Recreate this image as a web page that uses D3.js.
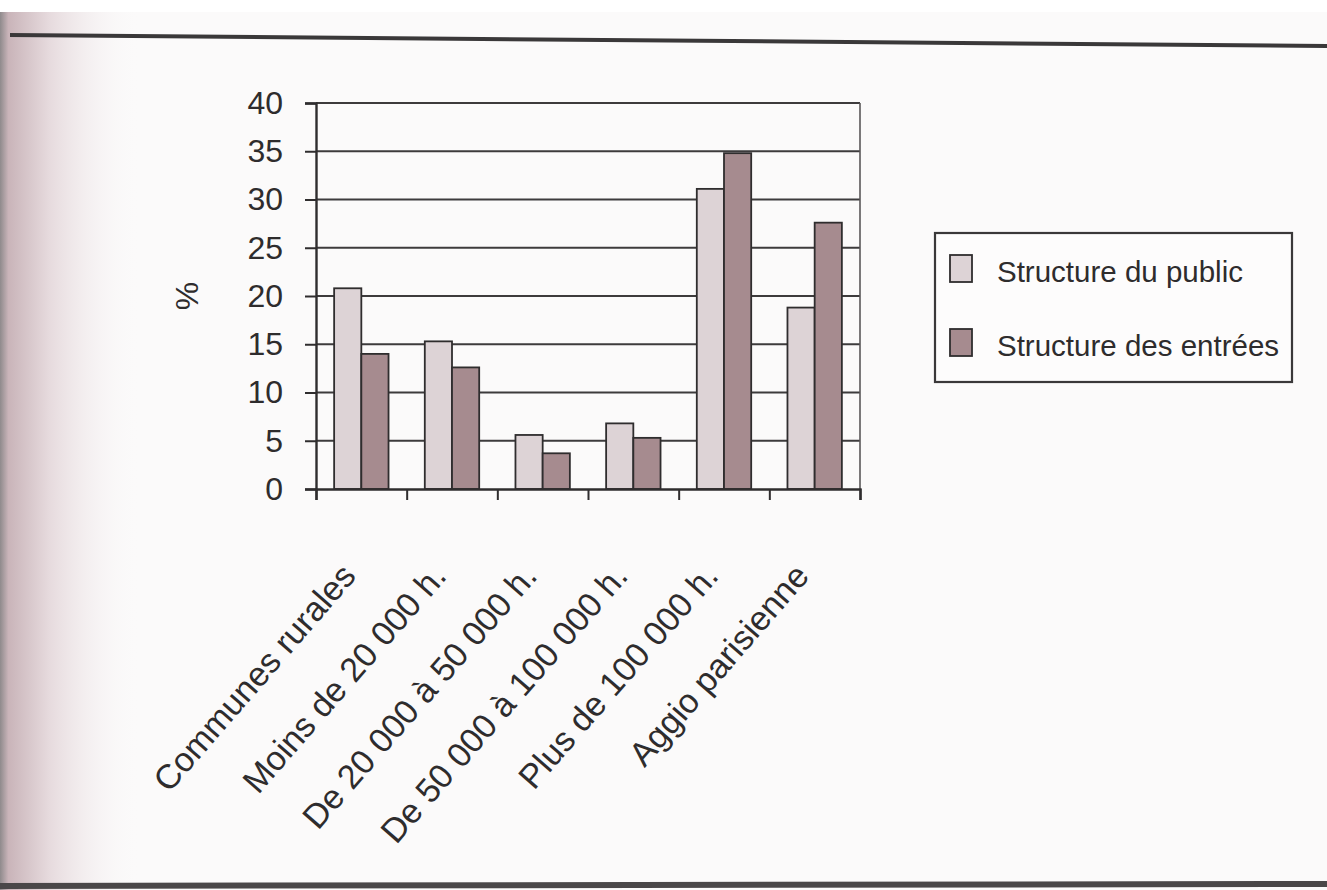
<!DOCTYPE html>
<html>
<head>
<meta charset="utf-8">
<script src="https://cdn.jsdelivr.net/npm/d3@7"></script>
<style>
  html, body { margin: 0; padding: 0; background: #fbfafa; }
  svg { display: block; }
  text { font-family: "Liberation Sans", Arial, sans-serif; fill: #2e2c2d; }
</style>
</head>
<body>
<svg id="chart" width="1327" height="890"></svg>
<script>
// Répartition du public et des entrées selon la taille de la commune (%)
const categories = [
  "Communes rurales",
  "Moins de 20 000 h.",
  "De 20 000 à 50 000 h.",
  "De 50 000 à 100 000 h.",
  "Plus de 100 000 h.",
  "Aggio parisienne"
];
const seriesNames = ["Structure du public", "Structure des entrées"];
const publicValues = [20.8, 15.3, 5.6, 6.8, 31.1, 18.8];
const entreesValues = [14.0, 12.6, 3.7, 5.3, 34.8, 27.6];
const yTicks = [0, 5, 10, 15, 20, 25, 30, 35, 40];
const yLabel = "%";

const seriesValues = [publicValues, entreesValues];
const colors = ["#ddd3d6", "#a68b8f"];

const svg = d3.select("#chart");
const W = 1327, H = 890;

// Page background: shaded binding on the left, rule at top and bottom
const defs = svg.append("defs");
const grad = defs.append("linearGradient").attr("id", "binding")
  .attr("x1", 0).attr("x2", 1).attr("y1", 0).attr("y2", 0);
grad.append("stop").attr("offset", 0).attr("stop-color", "#8f8a8c");
grad.append("stop").attr("offset", 0.06).attr("stop-color", "#c9b4b9");
grad.append("stop").attr("offset", 0.35).attr("stop-color", "#e6dadd");
grad.append("stop").attr("offset", 1).attr("stop-color", "#fbfafa").attr("stop-opacity", 0);
svg.append("rect").attr("x", 0).attr("y", 0).attr("width", 140).attr("height", H)
  .attr("fill", "url(#binding)");
svg.append("rect").attr("x", 0).attr("y", 0).attr("width", W).attr("height", 12)
  .attr("fill", "#ffffff");
svg.append("line").attr("x1", 10).attr("y1", 35).attr("x2", W).attr("y2", 46)
  .attr("stroke", "#3a3839").attr("stroke-width", 4);
svg.append("line").attr("x1", 0).attr("y1", 886).attr("x2", W).attr("y2", 884)
  .attr("stroke", "#4a4748").attr("stroke-width", 6);

// Plot area
const plotLeft = 316, plotRight = 860, plotTop = 103, plotBottom = 489;

const y = d3.scaleLinear().domain([0, 40]).range([plotBottom, plotTop]);
const x0 = d3.scaleBand().domain(categories).range([plotLeft, plotRight])
  .paddingInner(0.4).paddingOuter(0.2);
const x1 = d3.scaleBand().domain(seriesNames).range([0, x0.bandwidth()]);

const g = svg.append("g");

// Horizontal gridlines
g.append("g").selectAll("line").data(yTicks.filter(d => d > 0)).join("line")
  .attr("x1", plotLeft).attr("x2", plotRight)
  .attr("y1", d => y(d)).attr("y2", d => y(d))
  .attr("stroke", "#3d3b3c").attr("stroke-width", 2.2);

// Right border of plot
g.append("line").attr("x1", plotRight).attr("x2", plotRight)
  .attr("y1", plotTop).attr("y2", plotBottom)
  .attr("stroke", "#5a5758").attr("stroke-width", 1.6);

// Bars
const groups = g.append("g").selectAll("g").data(categories).join("g")
  .attr("transform", d => `translate(${x0(d)},0)`);
groups.selectAll("rect")
  .data((c, i) => seriesNames.map((s, k) => ({ s, k, v: seriesValues[k][i] })))
  .join("rect")
  .attr("x", d => x1(d.s))
  .attr("y", d => y(d.v))
  .attr("width", x1.bandwidth())
  .attr("height", d => y(0) - y(d.v))
  .attr("fill", d => colors[d.k])
  .attr("stroke", "#2f2d2e").attr("stroke-width", 1.8);

// Y axis
const yAxis = d3.axisLeft(y).tickValues(yTicks).tickSize(11).tickPadding(22);
const ya = g.append("g").attr("transform", `translate(${plotLeft},0)`).call(yAxis);
ya.select(".domain").attr("stroke", "#2f2d2e").attr("stroke-width", 2.4);
ya.selectAll(".tick line").attr("stroke", "#2f2d2e").attr("stroke-width", 2);
ya.selectAll(".tick text").attr("font-size", 32).attr("fill", "#2e2c2d")
  .attr("font-family", "Liberation Sans, Arial, sans-serif");

// X axis with ticks between categories
const xAxisScale = d3.scaleLinear().domain([0, categories.length]).range([plotLeft, plotRight]);
const xa = g.append("g").attr("transform", `translate(0,${plotBottom})`)
  .call(d3.axisBottom(xAxisScale).ticks(categories.length).tickSize(11).tickFormat(""));
xa.select(".domain").attr("stroke", "#2f2d2e").attr("stroke-width", 2.4);
xa.selectAll(".tick line").attr("stroke", "#2f2d2e").attr("stroke-width", 2);

// Rotated category labels
g.append("g").selectAll("text").data(categories).join("text")
  .attr("transform", d => `translate(${x0(d) + x0.bandwidth() / 2 - 4},${plotBottom + 88}) rotate(-49)`)
  .attr("text-anchor", "end")
  .attr("font-size", 34)
  .text(d => d);

// Y axis title
svg.append("text")
  .attr("transform", `translate(198,${(plotTop + plotBottom) / 2}) rotate(-90)`)
  .attr("text-anchor", "middle")
  .attr("font-size", 32)
  .text(yLabel);

// Legend
const lg = svg.append("g").attr("transform", "translate(935,233)");
lg.append("rect").attr("width", 357).attr("height", 149)
  .attr("fill", "#fdfcfc").attr("stroke", "#3a3839").attr("stroke-width", 2.2);
const items = lg.selectAll("g").data(seriesNames).join("g")
  .attr("transform", (d, i) => `translate(0,${22 + i * 74})`);
items.append("rect").attr("x", 15).attr("y", 0).attr("width", 22).attr("height", 27)
  .attr("fill", (d, i) => colors[i]).attr("stroke", "#2f2d2e").attr("stroke-width", 1.8);
items.append("text").attr("x", 62).attr("y", 27).attr("font-size", 29.5).text(d => d);
</script>
</body>
</html>
